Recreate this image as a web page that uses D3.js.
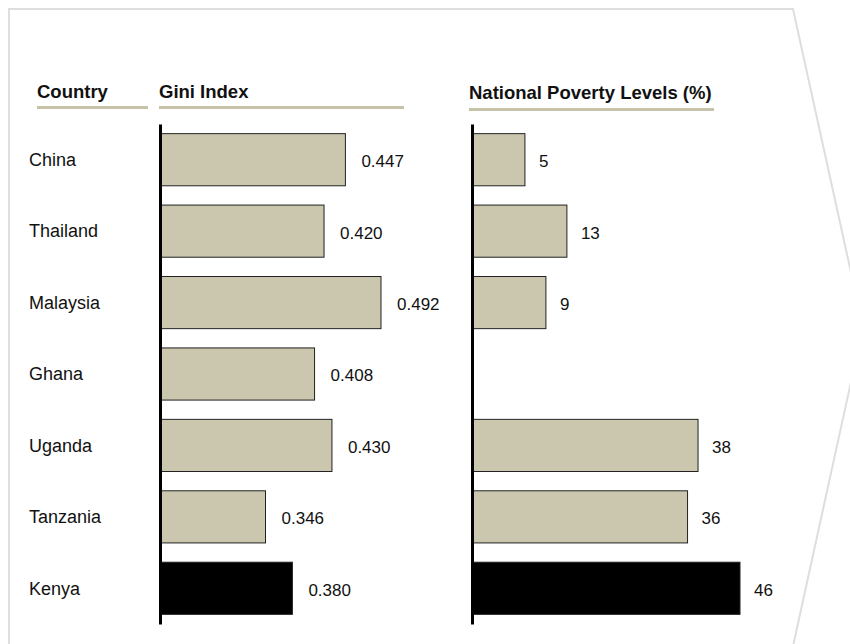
<!DOCTYPE html>
<html>
<head>
<meta charset="utf-8">
<script src="https://cdn.jsdelivr.net/npm/d3@7"></script>
<style>
  html, body { margin: 0; padding: 0; background: #ffffff; }
  svg { display: block; font-family: Arial, "Liberation Sans", sans-serif; }
</style>
</head>
<body>
<svg id="chart" width="850" height="644"></svg>
<script>
// ---- data ----
const countries = ["China", "Thailand", "Malaysia", "Ghana", "Uganda", "Tanzania", "Kenya"];
const giniValues = [0.447, 0.420, 0.492, 0.408, 0.430, 0.346, 0.380];
const giniLabels = ["0.447", "0.420", "0.492", "0.408", "0.430", "0.346", "0.380"];
const povertyValues = [5, 13, 9, null, 38, 36, 46];
const povertyLabels = ["5", "13", "9", "", "38", "36", "46"];
const highlightCountry = "Kenya";
const headers = ["Country", "Gini Index", "National Poverty Levels (%)"];

// ---- styles ----
const beige = "#cbc6ae";
const lineBeige = "#c8c3a8";
const frameGrey = "#dedede";

const svg = d3.select("#chart");

// frame (chevron shaped)
svg.append("path")
  .attr("d", d3.line()([[9, 660], [9, 9], [793, 9], [863, 327], [790, 660]]))
  .attr("fill", "none")
  .attr("stroke", frameGrey)
  .attr("stroke-width", 2);

// row scale
const y = d3.scaleBand()
  .domain(countries)
  .range([124, 624])
  .paddingInner(0.27)
  .paddingOuter(0.135);

// value scales
const xGini = d3.scaleLinear().domain([0.2139, 0.492]).range([161, 381]);
const xPov = d3.scaleLinear().domain([-4.9, 46]).range([473, 740]);

// headers
const headerX = [37, 159, 469];
const headerY = [98, 98, 99];
const underline = [[37, 148, 107.5], [159, 404, 107.5], [469, 714, 109.5]];
headers.forEach((h, i) => {
  svg.append("text")
    .attr("x", headerX[i]).attr("y", headerY[i])
    .attr("font-size", "18.5px").attr("font-weight", "bold")
    .attr("fill", "#111")
    .text(h);
  svg.append("line")
    .attr("x1", underline[i][0]).attr("x2", underline[i][1])
    .attr("y1", underline[i][2]).attr("y2", underline[i][2])
    .attr("stroke", lineBeige).attr("stroke-width", 3);
});

// country labels
svg.append("g").selectAll("text")
  .data(countries)
  .join("text")
  .attr("x", 29)
  .attr("y", d => y(d) + y.bandwidth() / 2)
  .attr("dy", "0.35em")
  .attr("font-size", "18px")
  .attr("fill", "#111")
  .text(d => d);

function panel(values, labels, x, gap) {
  const g = svg.append("g");
  const rows = countries.map((c, i) => ({ c, v: values[i], label: labels[i] }))
    .filter(d => d.v !== null);
  g.selectAll("rect")
    .data(rows)
    .join("rect")
    .attr("x", x.range()[0])
    .attr("y", d => y(d.c))
    .attr("width", d => x(d.v) - x.range()[0])
    .attr("height", y.bandwidth())
    .attr("fill", d => d.c === highlightCountry ? "#000" : beige)
    .attr("stroke", "#222")
    .attr("stroke-width", 1);
  g.selectAll("text")
    .data(rows)
    .join("text")
    .attr("x", d => x(d.v) + gap)
    .attr("y", d => y(d.c) + y.bandwidth() / 2 + 1.5)
    .attr("dy", "0.35em")
    .attr("font-size", "17px")
    .attr("fill", "#111")
    .text(d => d.label);
  // vertical axis line
  const axis = svg.append("g")
    .attr("transform", `translate(${x.range()[0] - 1},0)`)
    .call(d3.axisLeft(y).tickSize(0).tickSizeOuter(0).tickFormat(""));
  axis.select(".domain").attr("stroke", "#000").attr("stroke-width", 3);
}

panel(giniValues, giniLabels, xGini, 16);
panel(povertyValues, povertyLabels, xPov, 14);
</script>
</body>
</html>
